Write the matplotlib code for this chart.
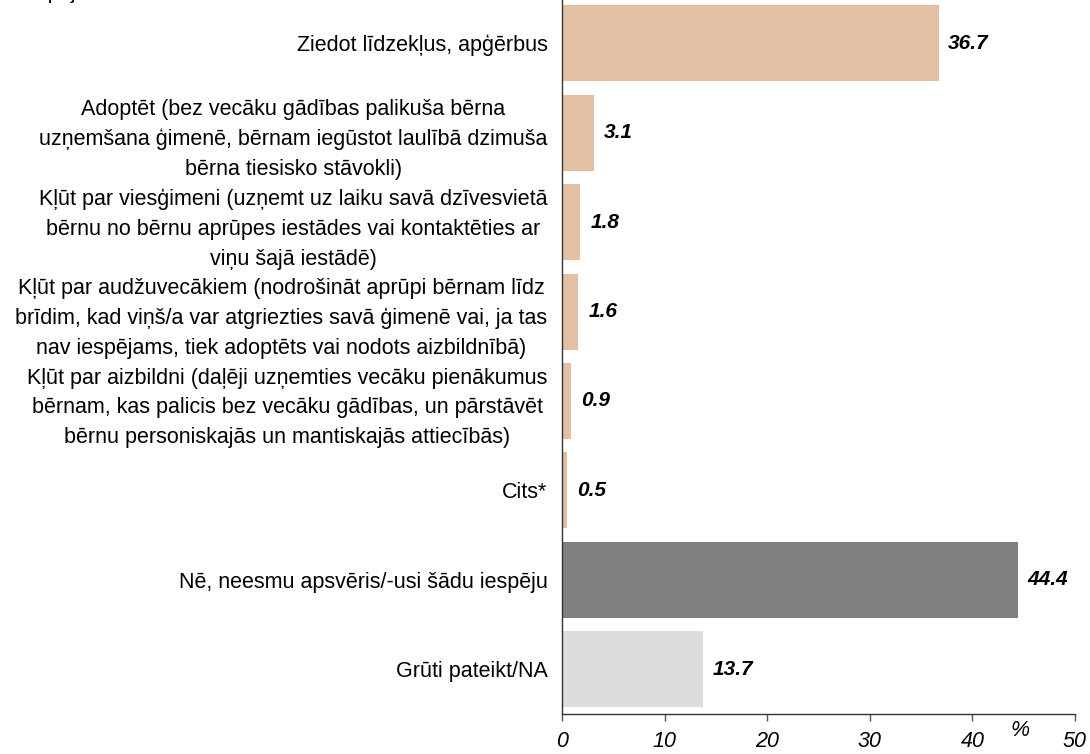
import matplotlib.pyplot as plt

plt.rcParams['font.family'] = ['Liberation Sans', 'DejaVu Sans']

labels = [
    'Ziedot līdzekļus, apģērbus',
    'Adoptēt (bez vecāku gādības palikuša bērna\nuzņemšana ģimenē, bērnam iegūstot laulībā dzimuša\nbērna tiesisko stāvokli)',
    'Kļūt par viesģimeni (uzņemt uz laiku savā dzīvesvietā\nbērnu no bērnu aprūpes iestādes vai kontaktēties ar\nviņu šajā iestādē)',
    'Kļūt par audžuvecākiem (nodrošināt aprūpi bērnam līdz\nbrīdim, kad viņš/a var atgriezties savā ģimenē vai, ja tas\nnav iespējams, tiek adoptēts vai nodots aizbildnībā)',
    'Kļūt par aizbildni (daļēji uzņemties vecāku pienākumus\nbērnam, kas palicis bez vecāku gādības, un pārstāvēt\nbērnu personiskajās un mantiskajās attiecībās)',
    'Cits*',
    'Nē, neesmu apsvēris/-usi šādu iespēju',
    'Grūti pateikt/NA',
]
values = [36.7, 3.1, 1.8, 1.6, 0.9, 0.5, 44.4, 13.7]
colors = ['#E3C0A3'] * 6 + ['#808080', '#DDDDDD']

fig = plt.figure(figsize=(10.9, 7.54), dpi=100)
ax = fig.add_axes([562 / 1090, 40 / 754, 513 / 1090, 715.5 / 754])

pos = list(range(len(values)))
ax.barh(pos, values, height=0.85, color=colors)
ax.set_ylim(len(values) - 0.5, -0.5)
ax.set_xlim(0, 50)

for p, v in zip(pos, values):
    ax.text(v + 0.95, p, f'{v:.1f}', va='center', ha='left', fontsize=15,
            fontweight='bold', fontstyle='italic')

ax.set_yticks(pos)
ax.set_yticklabels(labels, fontsize=15.5, linespacing=1.55, multialignment='center')
ax.tick_params(axis='y', length=0, pad=10.5)
ax.set_xticks(range(0, 51, 10))
ax.set_xticklabels([str(t) for t in range(0, 51, 10)], fontsize=15.5, fontstyle='italic')
ax.tick_params(axis='x', direction='out', length=5, width=1, color='#555555', pad=7)

for s in ['top', 'right']:
    ax.spines[s].set_visible(False)
for s in ['left', 'bottom']:
    ax.spines[s].set_color('#333333')
    ax.spines[s].set_linewidth(1)

fig.text(1020 / 1090, 1 - 731 / 754, '%', fontsize=15.5, fontstyle='italic', ha='center', va='center')
# title line cut off at the top of the picture
fig.text(20 / 1090, 1 + 1 / 754, 'Iespējām bērniem bez vecāku atbalsta', fontsize=15,
         ha='left', va='baseline')

plt.savefig('out.png', dpi=100)
